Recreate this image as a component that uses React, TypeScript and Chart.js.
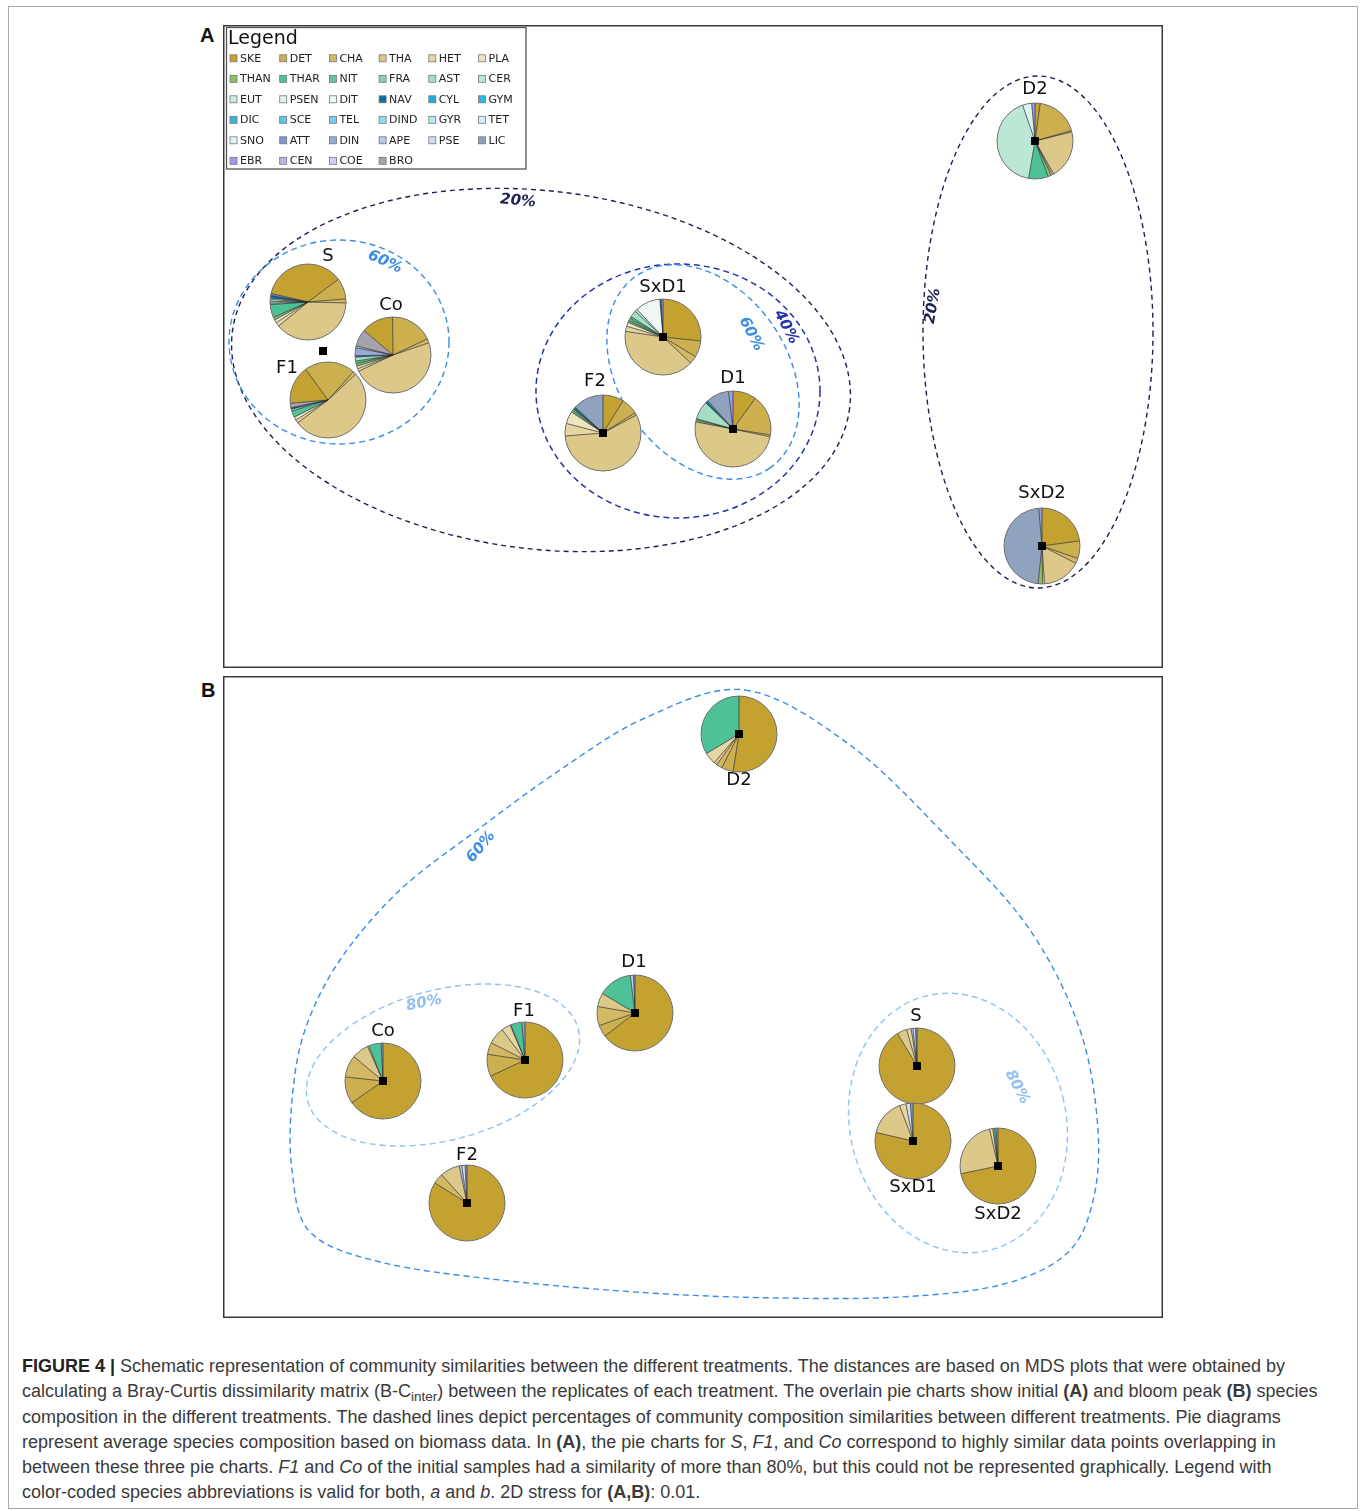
import React, { useEffect, useRef } from "react";
import { Chart, registerables } from "chart.js";
Chart.register(...registerables);

// ---------- species legend ----------
const SPECIES = ["SKE","DET","CHA","THA","HET","PLA","THAN","THAR","NIT","FRA","AST","CER","EUT","PSEN","DIT","NAV","CYL","GYM","DIC","SCE","TEL","DIND","GYR","TET","SNO","ATT","DIN","APE","PSE","LIC","EBR","CEN","COE","BRO"];
const SPECIES_COLORS = ["#C3A232","#CCAF4F","#D3B965","#DCC888","#E5D6A2","#EEE4C2","#8CBF68","#4EC197","#68C49C","#88D2B1","#A4DEC4","#BBE7D5","#CBEEE0","#DDF3EA","#EEF7F3","#0B6F9F","#19ADE0","#2DB9E8","#36B4DD","#58C8EC","#76D1EE","#96DCF2","#B6E7F6","#D0EFF8","#E4F4F9","#7D95DC","#98AAD7","#B9C6E6","#D3DBF0","#8FA3BF","#9F9CEC","#B7B5EE","#D0CEF4","#A8A2AC"];

// ---------- panel A: initial composition (% biomass) ----------
const A_S = { SKE: 36.1, DET: 8.9, CHA: 1.7, THA: 38.6, HET: 1.7, PLA: 1.4, THAN: 1.1, THAR: 5.6, FRA: 0.6, AST: 0.8, CER: 0.8, PSEN: 0.6, NAV: 1.1, ATT: 0.8 };
const A_Co = { SKE: 13.6, DET: 18.1, CHA: 1.7, THA: 47.8, HET: 1.1, PLA: 1.1, THAN: 1.1, THAR: 1.1, AST: 1.7, NAV: 0.6, DIN: 3.3, APE: 0.8, BRO: 7.2 };
const A_F1 = { SKE: 16.4, DET: 21.7, CHA: 1.4, THA: 51.7, HET: 1.4, PLA: 1.4, THAR: 2.8, AST: 0.8, NAV: 0.6, BRO: 1.9 };
const A_SxD1 = { SKE: 26.4, DET: 6.9, CHA: 3.3, THA: 40.0, HET: 2.2, PLA: 1.7, THAN: 0.8, THAR: 1.1, NIT: 0.8, AST: 2.8, CER: 1.1, DIT: 10.6, NAV: 0.5, EBR: 0.8 };
const A_F2 = { SKE: 8.9, DET: 7.2, CHA: 1.1, THA: 56.7, HET: 5.3, PLA: 5.3, THAN: 0.8, THAR: 0.8, NAV: 0.6, CYL: 0.4, LIC: 13.1 };
const A_D1 = { SKE: 10.0, DET: 17.5, CHA: 0.8, THA: 49.7, THAN: 0.8, NIT: 0.6, AST: 7.8, NAV: 0.6, CYL: 0.6, LIC: 9.7, EBR: 1.9 };
const A_D2 = { SKE: 2.2, DET: 18.3, CHA: 0.6, THA: 20.6, HET: 0.6, PLA: 0.6, THAN: 1.4, THAR: 8.3, CER: 41.9, PSEN: 3.9, EBR: 1.4 };
const A_SxD2 = { SKE: 22.8, DET: 7.5, CHA: 2.2, THA: 16.4, HET: 0.8, THAN: 1.9, LIC: 46.9, EBR: 1.4 };

const TREAT_A = ["S", "Co", "F1", "SxD1", "F2", "D1", "D2", "SxD2"];
const COMP_A = [A_S, A_Co, A_F1, A_SxD1, A_F2, A_D1, A_D2, A_SxD2];
const PIE_X_A = [8.5, 17.0, 10.5, 44.0, 38.0, 51.0, 81.2, 81.9];
const PIE_Y_A = [36.6, 31.3, 26.8, 33.1, 23.5, 23.9, 52.7, 12.2];
const MDS_X_A = [10.0, 10.0, 10.0, 44.0, 38.0, 51.0, 81.2, 81.9];
const MDS_Y_A = [31.7, 31.7, 31.7, 33.1, 23.5, 23.9, 52.7, 12.2];
const START_A = [283, 310, 265, 0, 0, 0, 0, 0];

// ---------- panel B: bloom peak composition (% biomass) ----------
const B_D2 = { SKE: 52.5, DET: 5.0, CHA: 2.5, THA: 1.4, HET: 5.0, THAR: 33.6 };
const B_Co = { SKE: 65.3, DET: 11.4, CHA: 9.4, THA: 7.2, HET: 0.6, THAR: 5.3, LIC: 0.8 };
const B_F1 = { SKE: 67.8, DET: 9.4, CHA: 5.0, THA: 7.2, HET: 3.9, PLA: 0.3, THAR: 4.7, LIC: 1.4 };
const B_D1 = { SKE: 64.4, DET: 5.0, CHA: 8.1, THA: 5.8, THAR: 14.4, APE: 1.4, LIC: 0.6 };
const B_S = { SKE: 91.4, THA: 4.2, HET: 1.9, PSE: 1.1, APE: 0.8, LIC: 0.6 };
const B_SxD1 = { SKE: 78.6, THA: 15.6, HET: 2.8, PSE: 1.9, LIC: 1.1 };
const B_SxD2 = { SKE: 71.7, THA: 24.7, HET: 1.4, THAR: 0.8, AST: 0.6, LIC: 0.8 };
const B_F2 = { SKE: 83.3, CHA: 4.4, THA: 8.3, PSE: 1.4, APE: 1.1, LIC: 0.8 };

const TREAT_B = ["D2", "Co", "F1", "D1", "S", "SxD1", "SxD2", "F2"];
const COMP_B = [B_D2, B_Co, B_F1, B_D1, B_S, B_SxD1, B_SxD2, B_F2];
const PIE_X_B = [51.6, 16.0, 30.2, 41.2, 69.4, 69.0, 77.5, 24.4];
const PIE_Y_B = [58.4, 23.7, 25.8, 30.5, 25.2, 17.7, 15.2, 11.5];
const START_B = [0, 0, 0, 0, 0, 0, 0, 0];

// ---------- similarity contours (MDS units) ----------
const HULLS_A = [
  { level: "20%", cx: 31.8, cy: 29.8, rx: 31.1, ry: 17.9, rot: 7 },
  { level: "40%", cx: 45.5, cy: 27.7, rx: 14.2, ry: 12.7, rot: 0 },
  { level: "60%", cx: 11.6, cy: 32.6, rx: 11.0, ry: 10.2, rot: 0 },
  { level: "60%", cx: 48.0, cy: 29.6, rx: 11.7, ry: 8.4, rot: 55 },
  { level: "20%", cx: 81.5, cy: 33.6, rx: 11.5, ry: 25.6, rot: 0 },
];
const HULL_LABELS_A = [
  { text: "20%", x: 29.5, y: 46.7, rot: 5 },
  { text: "40%", x: 56.3, y: 34.1, rot: 62 },
  { text: "60%", x: 16.2, y: 40.6, rot: 25 },
  { text: "60%", x: 52.8, y: 33.4, rot: 62 },
  { text: "20%", x: 71.0, y: 36.2, rot: -80 },
];
const HULLS_B = [
  { level: "80%", cx: 22.0, cy: 25.3, rx: 14.0, ry: 7.5, rot: -15 },
  { level: "80%", cx: 73.5, cy: 19.5, rx: 10.8, ry: 13.1, rot: -14 },
];
const CURVE_B_X = [52.2, 62.7, 72.7, 80.7, 85.7, 87.5, 86.9, 84.2, 77.7, 67.7, 55.7, 42.7, 27.7, 15.7, 8.7, 6.9, 6.9, 8.2, 11.7, 17.7, 25.7, 33.7, 42.2];
const CURVE_B_Y = [62.8, 57.3, 47.8, 38.8, 28.8, 18.8, 11.3, 6.3, 3.3, 2.1, 2.0, 2.5, 3.8, 5.6, 8.6, 14.8, 21.8, 28.8, 35.8, 42.8, 49.0, 54.8, 60.0];
const HULL_LABELS_B = [
  { text: "60%", x: 25.8, y: 47.1, rot: -50 },
  { text: "80%", x: 20.1, y: 31.5, rot: -12 },
  { text: "80%", x: 79.4, y: 23.1, rot: 62 },
];

// ---------- styles ----------
const LEVEL_STYLE: Record<string, { color: string; dash: number[]; width: number }> = {
  "20%": { color: "#1C2150", dash: [5, 4], width: 1.4 },
  "40%": { color: "#2433A6", dash: [6, 4], width: 1.5 },
  "60%": { color: "#3A8DE6", dash: [6, 4], width: 1.4 },
  "80%": { color: "#92C1F1", dash: [6, 4], width: 1.4 },
};
const LABEL_OFF_A = [[20, -46], [-2, -50], [-41, -32], [0, -50], [-8, -52], [0, -51], [0, -52], [0, -53]];
const LABEL_OFF_B = [[0, 46], [0, -50], [-1, -49], [-1, -51], [-1, -50], [0, 46], [0, 48], [0, -48]];
const PIE_R = 38;

function drawPie(ctx: CanvasRenderingContext2D, cx: number, cy: number, comp: Record<string, number>, start: number) {
  const total = SPECIES.reduce((s, k) => s + (comp[k] || 0), 0);
  let a = ((start - 90) * Math.PI) / 180;
  const edges: number[] = [];
  SPECIES.forEach((k, i) => {
    const v = comp[k] || 0;
    if (v <= 0) return;
    const sweep = (v / total) * Math.PI * 2;
    ctx.beginPath();
    ctx.moveTo(cx, cy);
    ctx.arc(cx, cy, PIE_R, a, a + sweep);
    ctx.closePath();
    ctx.fillStyle = SPECIES_COLORS[i];
    ctx.fill();
    edges.push(a);
    a += sweep;
  });
  ctx.strokeStyle = "#2a2a2a";
  ctx.lineWidth = 0.7;
  edges.forEach((e) => {
    ctx.beginPath();
    ctx.moveTo(cx, cy);
    ctx.lineTo(cx + PIE_R * Math.cos(e), cy + PIE_R * Math.sin(e));
    ctx.stroke();
  });
  ctx.beginPath();
  ctx.arc(cx, cy, PIE_R, 0, Math.PI * 2);
  ctx.strokeStyle = "#6f6f6f";
  ctx.lineWidth = 1;
  ctx.stroke();
}

function closedSpline(ctx: CanvasRenderingContext2D, pts: { x: number; y: number }[]) {
  const n = pts.length;
  ctx.beginPath();
  ctx.moveTo(pts[0].x, pts[0].y);
  for (let i = 0; i < n; i++) {
    const p0 = pts[(i - 1 + n) % n], p1 = pts[i], p2 = pts[(i + 1) % n], p3 = pts[(i + 2) % n];
    ctx.bezierCurveTo(p1.x + (p2.x - p0.x) / 6, p1.y + (p2.y - p0.y) / 6, p2.x - (p3.x - p1.x) / 6, p2.y - (p3.y - p1.y) / 6, p2.x, p2.y);
  }
  ctx.closePath();
}

type PanelCfg = {
  names: string[]; comps: Record<string, number>[]; px: number[]; py: number[]; mx: number[]; my: number[];
  starts: number[]; hulls: typeof HULLS_A; labels: typeof HULL_LABELS_A; offs: number[][];
  curveX?: number[]; curveY?: number[]; legend: boolean;
};

function makePlugin(cfg: PanelCfg) {
  return {
    id: "figure",
    beforeDatasetsDraw(chart: any) {
      const { ctx } = chart;
      const xs = chart.scales.x, ys = chart.scales.y;
      ctx.save();
      cfg.hulls.forEach((h) => {
        const st = LEVEL_STYLE[h.level];
        const cx = xs.getPixelForValue(h.cx), cy = ys.getPixelForValue(h.cy);
        const rx = Math.abs(xs.getPixelForValue(h.cx + h.rx) - cx);
        const ry = Math.abs(ys.getPixelForValue(h.cy + h.ry) - cy);
        ctx.setLineDash(st.dash);
        ctx.strokeStyle = st.color;
        ctx.lineWidth = st.width;
        ctx.beginPath();
        ctx.ellipse(cx, cy, rx, ry, (h.rot * Math.PI) / 180, 0, Math.PI * 2);
        ctx.stroke();
      });
      if (cfg.curveX && cfg.curveY) {
        const st = LEVEL_STYLE["60%"];
        const pts = cfg.curveX.map((v, i) => ({ x: xs.getPixelForValue(v), y: ys.getPixelForValue(cfg.curveY![i]) }));
        ctx.setLineDash(st.dash);
        ctx.strokeStyle = st.color;
        ctx.lineWidth = st.width;
        closedSpline(ctx, pts);
        ctx.stroke();
      }
      ctx.setLineDash([]);
      cfg.labels.forEach((l) => {
        ctx.save();
        ctx.translate(xs.getPixelForValue(l.x), ys.getPixelForValue(l.y));
        ctx.rotate((l.rot * Math.PI) / 180);
        ctx.font = 'italic bold 15px "DejaVu Sans"';
        ctx.textAlign = "center";
        ctx.textBaseline = "middle";
        ctx.fillStyle = LEVEL_STYLE[l.text].color;
        ctx.fillText(l.text, 0, 0);
        ctx.restore();
      });
      const meta = chart.getDatasetMeta(1);
      meta.data.forEach((el: any, i: number) => drawPie(ctx, el.x, el.y, cfg.comps[i], cfg.starts[i]));
      ctx.restore();
    },
    afterDatasetsDraw(chart: any) {
      const { ctx, chartArea } = chart;
      ctx.save();
      const meta = chart.getDatasetMeta(1);
      ctx.font = '18px "DejaVu Sans"';
      ctx.fillStyle = "#111";
      ctx.textAlign = "center";
      ctx.textBaseline = "middle";
      meta.data.forEach((el: any, i: number) => {
        ctx.fillText(cfg.names[i], el.x + cfg.offs[i][0], el.y + cfg.offs[i][1]);
      });
      ctx.strokeStyle = "#3a3a3a";
      ctx.lineWidth = 1.5;
      ctx.strokeRect(chartArea.left + 0.75, chartArea.top + 0.75, chartArea.right - chartArea.left - 1.5, chartArea.bottom - chartArea.top - 1.5);
      if (cfg.legend) {
        const L = chartArea.left + 3.5, T = chartArea.top + 2.5;
        ctx.lineWidth = 1.3;
        ctx.strokeStyle = "#555";
        ctx.strokeRect(L, T, 299.5, 141.5);
        ctx.font = '19px "DejaVu Sans"';
        ctx.textAlign = "left";
        ctx.textBaseline = "alphabetic";
        ctx.fillStyle = "#111";
        ctx.fillText("Legend", L + 1.5, T + 16);
        ctx.font = '11px "DejaVu Sans"';
        ctx.textBaseline = "middle";
        SPECIES.forEach((s, i) => {
          const col = i % 6, row = Math.floor(i / 6);
          const x = chartArea.left + 7 + col * 49.7;
          const y = chartArea.top + 33.3 + row * 20.5;
          ctx.fillStyle = SPECIES_COLORS[i];
          ctx.fillRect(x, y - 3.5, 7, 7);
          ctx.strokeStyle = "#777";
          ctx.lineWidth = 0.8;
          ctx.strokeRect(x, y - 3.5, 7, 7);
          ctx.fillStyle = "#222";
          ctx.fillText(s, x + 10, y + 0.5);
        });
      }
      ctx.restore();
    },
  };
}

function Panel({ cfg, width, height, ymax }: { cfg: PanelCfg; width: number; height: number; ymax: number }) {
  const ref = useRef<HTMLCanvasElement>(null);
  useEffect(() => {
    if (!ref.current) return;
    const chart = new Chart(ref.current, {
      type: "scatter",
      data: {
        datasets: [
          {
            label: "MDS position",
            data: cfg.mx.map((x, i) => ({ x, y: cfg.my[i] })),
            pointStyle: "rect",
            pointRadius: 5.6,
            backgroundColor: "#000",
            borderWidth: 0,
            clip: false,
          },
          {
            label: "pie",
            data: cfg.px.map((x, i) => ({ x, y: cfg.py[i] })),
            pointRadius: 0,
            clip: false,
          },
        ],
      },
      options: {
        responsive: false,
        animation: false,
        devicePixelRatio: 1,
        events: [],
        layout: { padding: 0, autoPadding: false },
        plugins: { legend: { display: false }, tooltip: { enabled: false } },
        scales: {
          x: { type: "linear", min: 0, max: 94, display: false },
          y: { type: "linear", min: 0, max: ymax, display: false },
        },
      },
      plugins: [makePlugin(cfg)],
    });
    return () => chart.destroy();
  }, []);
  return <canvas ref={ref} width={width} height={height} style={{ width, height, display: "block" }} />;
}

const cfgA: PanelCfg = {
  names: TREAT_A, comps: COMP_A, px: PIE_X_A, py: PIE_Y_A, mx: MDS_X_A, my: MDS_Y_A, starts: START_A,
  hulls: HULLS_A, labels: HULL_LABELS_A, offs: LABEL_OFF_A, legend: true,
};
const cfgB: PanelCfg = {
  names: TREAT_B, comps: COMP_B, px: PIE_X_B, py: PIE_Y_B, mx: PIE_X_B, my: PIE_Y_B, starts: START_B,
  hulls: HULLS_B, labels: HULL_LABELS_B, offs: LABEL_OFF_B, curveX: CURVE_B_X, curveY: CURVE_B_Y, legend: false,
};

export default function App() {
  const cap: React.CSSProperties = { whiteSpace: "nowrap", height: 25.3, lineHeight: "25.3px" };
  const sub: React.CSSProperties = { fontSize: "0.75em", verticalAlign: "-0.3em", lineHeight: 0 };
  return (
    <div style={{ position: "absolute", left: 0, top: 0, width: 1360, height: 1511, background: "#fff" }}>
      <div style={{ position: "absolute", left: 8, top: 6, width: 1348, height: 1501, border: "1px solid #a8a8a8" }} />
      <div style={{ position: "absolute", left: 200, top: 24, font: 'bold 20px "Liberation Sans"', color: "#111" }}>A</div>
      <div style={{ position: "absolute", left: 201, top: 679, font: 'bold 20px "Liberation Sans"', color: "#111" }}>B</div>
      <div style={{ position: "absolute", left: 223, top: 25 }}>
        <Panel cfg={cfgA} width={940} height={643} ymax={64.3} />
      </div>
      <div style={{ position: "absolute", left: 223, top: 676 }}>
        <Panel cfg={cfgB} width={940} height={642} ymax={64.2} />
      </div>
      <div style={{ position: "absolute", left: 22, top: 1354, font: '18px "Liberation Sans"', color: "#3a3a3a" }}>
        <div style={cap}><b style={{ color: "#222" }}>FIGURE 4 |</b> Schematic representation of community similarities between the different treatments. The distances are based on MDS plots that were obtained by</div>
        <div style={cap}>calculating a Bray-Curtis dissimilarity matrix (B-C<span style={sub}>inter</span>) between the replicates of each treatment. The overlain pie charts show initial <b>(A)</b> and bloom peak <b>(B)</b> species</div>
        <div style={cap}>composition in the different treatments. The dashed lines depict percentages of community composition similarities between different treatments. Pie diagrams</div>
        <div style={cap}>represent average species composition based on biomass data. In <b>(A)</b>, the pie charts for <i>S</i>, <i>F1</i>, and <i>Co</i> correspond to highly similar data points overlapping in</div>
        <div style={cap}>between these three pie charts. <i>F1</i> and <i>Co</i> of the initial samples had a similarity of more than 80%, but this could not be represented graphically. Legend with</div>
        <div style={cap}>color-coded species abbreviations is valid for both, <i>a</i> and <i>b</i>. 2D stress for <b>(A,B)</b>: 0.01.</div>
      </div>
    </div>
  );
}
